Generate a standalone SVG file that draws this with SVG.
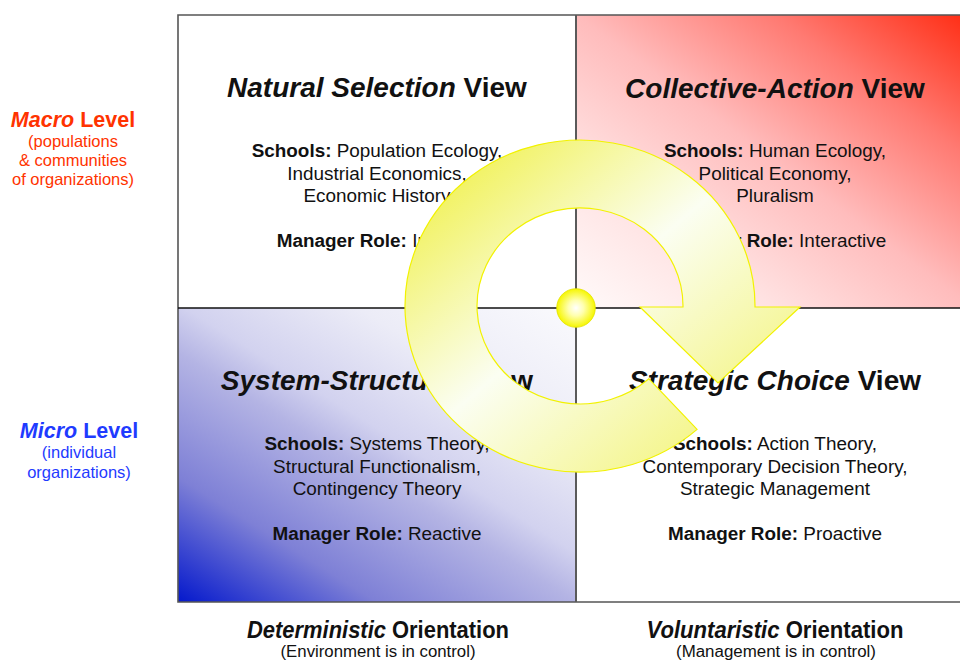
<svg xmlns="http://www.w3.org/2000/svg" width="960" height="661" viewBox="0 0 960 661">
  <style>
    text { font-family: "Liberation Sans", Arial, sans-serif; fill: #111; text-anchor: middle; }
    .title { font-size: 28px; font-weight: bold; }
    .it { font-style: italic; }
    .body { font-size: 18.9px; }
    .b { font-weight: bold; }
    .lvl { font-size: 21.5px; font-weight: bold; }
    .sub { font-size: 16.5px; }
    .red { fill: #ff3300; }
    .blue { fill: #1f3bff; }
    .orient { font-size: 23px; font-weight: bold; }
    .osub { font-size: 16px; }
    .grid { stroke: #555; stroke-width: 1.6; fill: none; }
  </style>
  <defs>
    <linearGradient id="redFade" x1="0" y1="1" x2="1" y2="0">
      <stop offset="0" stop-color="#fffafa"/>
      <stop offset="0.25" stop-color="#ffe2e2"/>
      <stop offset="0.5" stop-color="#ffbcbc"/>
      <stop offset="0.75" stop-color="#ff7a72"/>
      <stop offset="1" stop-color="#ff2a10"/>
    </linearGradient>
    <linearGradient id="blueFade" gradientUnits="userSpaceOnUse" x1="178" y1="602" x2="422" y2="212">
      <stop offset="0" stop-color="#0418cc"/>
      <stop offset="0.23" stop-color="#7e80d6"/>
      <stop offset="0.46" stop-color="#b4b4e4"/>
      <stop offset="0.55" stop-color="#d2d2ef"/>
      <stop offset="0.75" stop-color="#ececf7"/>
      <stop offset="1" stop-color="#fafafd"/>
    </linearGradient>
    <linearGradient id="arrowFill" x1="0" y1="0" x2="1" y2="1">
      <stop offset="0" stop-color="#eeee2e"/>
      <stop offset="0.47" stop-color="#fbfef2"/>
      <stop offset="1" stop-color="#f1f15a"/>
    </linearGradient>
    <radialGradient id="ballFill" cx="0.5" cy="0.5" r="0.5">
      <stop offset="0" stop-color="#ffffff"/>
      <stop offset="0.4" stop-color="#ffffb0"/>
      <stop offset="1" stop-color="#f6f600"/>
    </radialGradient>
  </defs>

  <rect width="960" height="661" fill="#ffffff"/>

  <!-- quadrant fills -->
  <rect x="576" y="15" width="398" height="293" fill="url(#redFade)"/>
  <rect x="178" y="308" width="398" height="294" fill="url(#blueFade)"/>

  <!-- grid frame and dividers -->
  <g id="grid">
    <path class="grid" d="M960 15 H178 V602 H960"/>
    <line x1="178" y1="308" x2="960" y2="308" stroke="#111" stroke-width="1.6"/>
    <line x1="576" y1="15" x2="576" y2="602" stroke="#5a5a5a" stroke-width="2"/>
  </g>

  <!-- axis labels -->
  <g id="macro-level">
    <text class="lvl red" x="73" y="127"><tspan class="it">Macro</tspan> Level</text>
    <text class="sub red" x="73" y="147">(populations</text>
    <text class="sub red" x="73" y="166">&amp; communities</text>
    <text class="sub red" x="73" y="185">of organizations)</text>
  </g>
  <g id="micro-level">
    <text class="lvl blue" x="79" y="438"><tspan class="it">Micro</tspan> Level</text>
    <text class="sub blue" x="79" y="458">(individual</text>
    <text class="sub blue" x="79" y="478">organizations)</text>
  </g>
  <g id="deterministic">
    <text class="orient" x="378" y="638" textLength="262" lengthAdjust="spacingAndGlyphs"><tspan class="it">Deterministic</tspan> Orientation</text>
    <text class="osub" x="378" y="657" textLength="195" lengthAdjust="spacingAndGlyphs">(Environment is in control)</text>
  </g>
  <g id="voluntaristic">
    <text class="orient" x="775" y="638" textLength="257" lengthAdjust="spacingAndGlyphs"><tspan class="it">Voluntaristic</tspan> Orientation</text>
    <text class="osub" x="776" y="657" textLength="200" lengthAdjust="spacingAndGlyphs">(Management is in control)</text>
  </g>

  <!-- the four views -->
  <g id="natural-selection">
    <text class="title" x="377" y="97"><tspan class="it">Natural Selection</tspan> View</text>
    <text class="body" x="377" y="157"><tspan class="b">Schools:</tspan> Population Ecology,</text>
    <text class="body" x="377" y="179.5">Industrial Economics,</text>
    <text class="body" x="377" y="202">Economic History</text>
    <text class="body" x="377" y="247"><tspan class="b">Manager Role:</tspan> Inactive</text>
  </g>
  <g id="collective-action">
    <text class="title" x="775" y="98"><tspan class="it">Collective-Action</tspan> View</text>
    <text class="body" x="775" y="157"><tspan class="b">Schools:</tspan> Human Ecology,</text>
    <text class="body" x="775" y="179.5">Political Economy,</text>
    <text class="body" x="775" y="202">Pluralism</text>
    <text class="body" x="775" y="247"><tspan class="b">Manager Role:</tspan> Interactive</text>
  </g>
  <g id="system-structural">
    <text class="title" x="377" y="390"><tspan class="it">System-Structural</tspan> View</text>
    <text class="body" x="377" y="450"><tspan class="b">Schools:</tspan> Systems Theory,</text>
    <text class="body" x="377" y="472.5">Structural Functionalism,</text>
    <text class="body" x="377" y="495">Contingency Theory</text>
    <text class="body" x="377" y="540"><tspan class="b">Manager Role:</tspan> Reactive</text>
  </g>
  <g id="strategic-choice">
    <text class="title" x="775" y="390"><tspan class="it">Strategic Choice</tspan> View</text>
    <text class="body" x="775" y="450"><tspan class="b">Schools:</tspan> Action Theory,</text>
    <text class="body" x="775" y="472.5">Contemporary Decision Theory,</text>
    <text class="body" x="775" y="495">Strategic Management</text>
    <text class="body" x="775" y="540"><tspan class="b">Manager Role:</tspan> Proactive</text>
  </g>

  <!-- circular arrow cycling through the views -->
  <g id="connectors">
    <path id="cycle-arrow" fill="url(#arrowFill)" stroke="#f2f200" stroke-width="1.2" stroke-linejoin="miter"
          d="M697.1 429.4 A175 166 0 1 1 755 307 L800 307 L718 383 L640 307 L683 307 A103 98 0 1 0 648.9 378.8 Z"/>
  </g>
  <g id="hub">
    <circle cx="576" cy="308" r="19.3" fill="url(#ballFill)" stroke="#e2e200" stroke-width="0.8"/>
  </g>
</svg>
